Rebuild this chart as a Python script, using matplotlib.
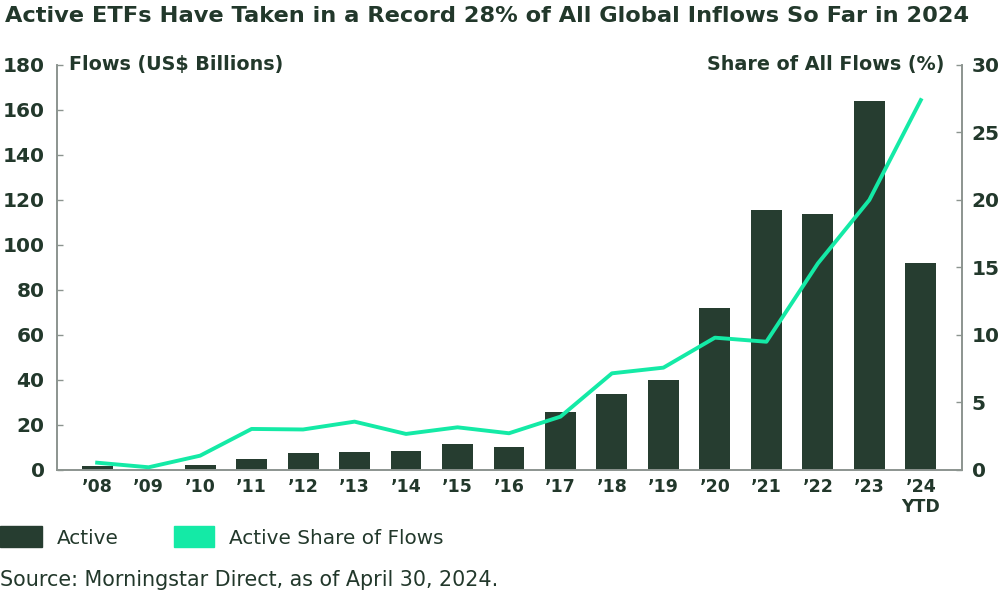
import matplotlib
matplotlib.use("Agg")
import matplotlib.pyplot as plt
from matplotlib.patches import Rectangle

years = ["’08", "’09", "’10", "’11", "’12", "’13", "’14", "’15", "’16",
         "’17", "’18", "’19", "’20", "’21", "’22", "’23", "’24\nYTD"]
active_flows = [1.8, 0.0, 2.0, 4.9, 7.4, 7.9, 8.6, 11.4, 10.4,
                25.6, 33.9, 39.9, 72.1, 115.4, 113.9, 164.0, 92.0]
active_share = [0.54, 0.2, 1.06, 3.04, 3.0, 3.58, 2.67, 3.16, 2.72,
                3.95, 7.16, 7.58, 9.8, 9.5, 15.3, 20.0, 27.4]
left_ticks = [0, 20, 40, 60, 80, 100, 120, 140, 160, 180]
right_ticks = [0, 5, 10, 15, 20, 25, 30]

DARK = "#263d30"
TEAL = "#14eaa6"
TEXT = "#22382b"
GRAY = "#8c948f"
FONT = ["DejaVu Sans"]

plt.rcParams["font.family"] = FONT

fig = plt.figure(figsize=(10, 6), dpi=100)
ax = fig.add_axes([0.057, 0.2167, 0.905, 0.675])
x = list(range(len(years)))
ax.bar(x, active_flows, width=0.6, color=DARK, zorder=2)
ax.set_ylim(0, 180)
ax.set_xlim(-0.78, len(years) - 0.2)
ax.set_yticks(left_ticks)
ax.set_yticklabels([str(t) for t in left_ticks], fontsize=14.5, fontweight="bold", color=TEXT)
ax.set_xticks(x)
ax.set_xticklabels(years, fontsize=12.5, fontweight="bold", color=TEXT, linespacing=1.15)
ax.tick_params(axis="x", length=0, pad=6)
ax.tick_params(axis="y", direction="in", length=4, width=1, color=GRAY, pad=9)

ax2 = ax.twinx()
ax2.plot(x, active_share, color=TEAL, lw=2.8, zorder=3)
ax2.set_ylim(0, 30)
ax2.set_yticks(right_ticks)
ax2.set_yticklabels([str(t) for t in right_ticks], fontsize=14.5, fontweight="bold", color=TEXT)
ax2.tick_params(axis="y", direction="in", length=4, width=1, color=GRAY, pad=7)

for a in (ax, ax2):
    a.spines["top"].set_visible(False)
    for s in ("left", "right", "bottom"):
        a.spines[s].set_color(GRAY)
        a.spines[s].set_linewidth(1.2)

ax.text(0.013, 1.0, "Flows (US$ Billions)", transform=ax.transAxes, ha="left", va="center",
        fontsize=13.8, fontweight="bold", color=TEXT)
ax.text(0.98, 1.0, "Share of All Flows (%)", transform=ax.transAxes, ha="right", va="center",
        fontsize=13.8, fontweight="bold", color=TEXT)

fig.text(0.005, 0.974, "Active ETFs Have Taken in a Record 28% of All Global Inflows So Far in 2024",
         ha="left", va="center", fontsize=16.2, fontweight="bold", color=TEXT)

# legend
fig.patches.append(Rectangle((0.0, 1 - 547 / 600), 0.042, 21 / 600, transform=fig.transFigure,
                             color=DARK, figure=fig))
fig.text(0.057, 1 - 538 / 600, "Active", ha="left", va="center", fontsize=14.4, color=TEXT)
fig.patches.append(Rectangle((0.174, 1 - 547 / 600), 0.040, 21 / 600, transform=fig.transFigure,
                             color=TEAL, figure=fig))
fig.text(0.229, 1 - 538 / 600, "Active Share of Flows", ha="left", va="center", fontsize=14.4, color=TEXT)

fig.text(0.0, 1 - 580 / 600, "Source: Morningstar Direct, as of April 30, 2024.", ha="left",
         va="center", fontsize=14.9, color=TEXT)

fig.savefig("out.png", dpi=100, facecolor="white")
